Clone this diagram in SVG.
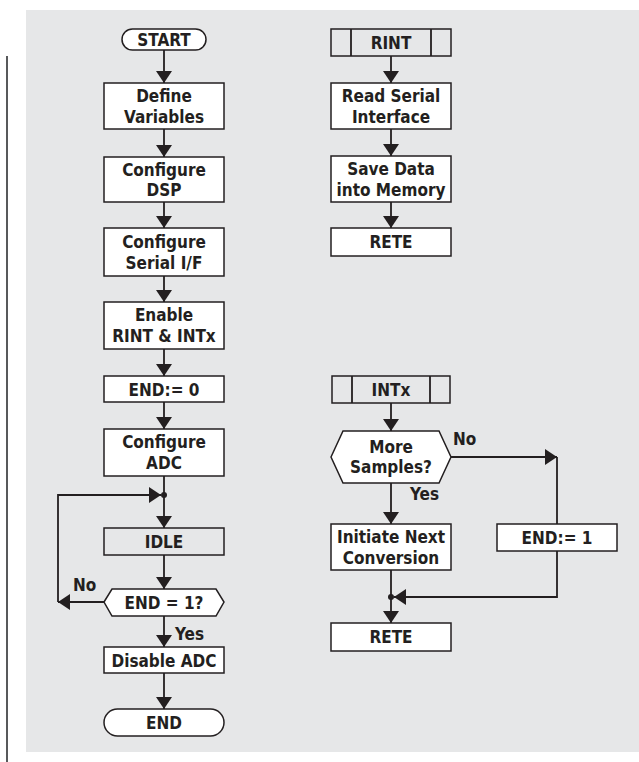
<svg xmlns="http://www.w3.org/2000/svg" width="639" height="762" viewBox="0 0 639 762">
<defs>
<style>
.bg{fill:#e6e7e8}
.box{fill:#ffffff;stroke:#231f20;stroke-width:1.5}
.gbox{fill:#e6e7e8;stroke:#231f20;stroke-width:1.5}
.ln{fill:none;stroke:#231f20;stroke-width:1.8}
.t{font-family:"Liberation Sans Narrow","Arial Narrow","DejaVu Sans Condensed",sans-serif;font-weight:bold;font-size:17px;fill:#231f20;text-anchor:middle}
.lbl{font-family:"Liberation Sans Narrow","Arial Narrow","DejaVu Sans Condensed",sans-serif;font-weight:bold;font-size:17px;fill:#231f20}
</style>
<marker id="ah" viewBox="0 0 12 16" refX="12" refY="8" markerWidth="12" markerHeight="16" markerUnits="userSpaceOnUse" orient="auto">
<path d="M0,0 L12,8 L0,16 Z" fill="#231f20"/>
</marker>
</defs>
<rect class="bg" x="26" y="10" width="613" height="742"/>
<line x1="7" y1="56" x2="7" y2="762" stroke="#58595b" stroke-width="2"/>

<g id="connectors">
<line class="ln" x1="164" y1="50" x2="164" y2="83" marker-end="url(#ah)"/>
<line class="ln" x1="164" y1="129" x2="164" y2="157" marker-end="url(#ah)"/>
<line class="ln" x1="164" y1="202" x2="164" y2="228" marker-end="url(#ah)"/>
<line class="ln" x1="164" y1="276" x2="164" y2="302" marker-end="url(#ah)"/>
<line class="ln" x1="164" y1="349" x2="164" y2="376" marker-end="url(#ah)"/>
<line class="ln" x1="164" y1="402" x2="164" y2="429" marker-end="url(#ah)"/>
<line class="ln" x1="164" y1="476" x2="164" y2="528" marker-end="url(#ah)"/>
<line class="ln" x1="164" y1="555" x2="164" y2="589" marker-end="url(#ah)"/>
<line class="ln" x1="164" y1="616" x2="164" y2="647" marker-end="url(#ah)"/>
<line class="ln" x1="164" y1="673" x2="164" y2="709" marker-end="url(#ah)"/>
<line class="ln" x1="104" y1="602" x2="58" y2="602" marker-end="url(#ah)"/>
<polyline class="ln" points="58,602 58,495 161,495" marker-end="url(#ah)"/>
<circle cx="164" cy="495" r="3" fill="#231f20"/>

<line class="ln" x1="391" y1="56" x2="391" y2="83" marker-end="url(#ah)"/>
<line class="ln" x1="391" y1="129" x2="391" y2="156" marker-end="url(#ah)"/>
<line class="ln" x1="391" y1="202" x2="391" y2="228" marker-end="url(#ah)"/>

<line class="ln" x1="391" y1="403" x2="391" y2="431" marker-end="url(#ah)"/>
<line class="ln" x1="391" y1="483" x2="391" y2="524" marker-end="url(#ah)"/>
<line class="ln" x1="391" y1="570" x2="391" y2="623" marker-end="url(#ah)"/>
<line class="ln" x1="451" y1="457" x2="557" y2="457" marker-end="url(#ah)"/>
<line class="ln" x1="557" y1="457" x2="557" y2="524"/>
<polyline class="ln" points="557,551 557,597 394,597" marker-end="url(#ah)"/>
<circle cx="391" cy="597" r="3" fill="#231f20"/>

<text class="lbl" x="73" y="591">No</text>
<text class="lbl" x="175" y="640">Yes</text>
<text class="lbl" x="453" y="445">No</text>
<text class="lbl" x="410" y="500">Yes</text>
</g>

<g id="start"><rect class="box" x="122" y="29" width="84" height="21" rx="10.5"/><text class="t" x="164" y="46">START</text></g>
<g id="define"><rect class="box" x="104" y="83" width="120" height="46"/><text class="t" x="164" y="102">Define</text><text class="t" x="164" y="123">Variables</text></g>
<g id="cfgdsp"><rect class="box" x="104" y="157" width="120" height="45"/><text class="t" x="164" y="176">Configure</text><text class="t" x="164" y="196">DSP</text></g>
<g id="cfgser"><rect class="box" x="104" y="228" width="120" height="48"/><text class="t" x="164" y="248">Configure</text><text class="t" x="164" y="269">Serial I/F</text></g>
<g id="enable"><rect class="box" x="104" y="302" width="120" height="47"/><text class="t" x="164" y="321">Enable</text><text class="t" x="164" y="342">RINT &amp; INTx</text></g>
<g id="end0"><rect class="box" x="104" y="376" width="120" height="26"/><text class="t" x="164" y="396">END:= 0</text></g>
<g id="cfgadc"><rect class="box" x="104" y="429" width="120" height="47"/><text class="t" x="164" y="448">Configure</text><text class="t" x="164" y="469">ADC</text></g>
<g id="idle"><rect class="gbox" x="104" y="528" width="120" height="27"/><text class="t" x="164" y="548">IDLE</text></g>
<g id="dec1"><polygon class="box" points="104,602 112,589 216,589 224,602 216,616 112,616"/><text class="t" x="164" y="609">END = 1?</text></g>
<g id="disable"><rect class="box" x="104" y="647" width="120" height="26"/><text class="t" x="164" y="667">Disable ADC</text></g>
<g id="end"><rect class="box" x="104" y="709" width="120" height="27" rx="13.5"/><text class="t" x="164" y="729">END</text></g>

<g id="rint"><rect class="gbox" x="331" y="29" width="120" height="27"/><line class="ln" x1="351" y1="29" x2="351" y2="56" stroke-width="1.5"/><line class="ln" x1="431" y1="29" x2="431" y2="56" stroke-width="1.5"/><text class="t" x="391" y="49">RINT</text></g>
<g id="readser"><rect class="box" x="331" y="83" width="120" height="46"/><text class="t" x="391" y="102">Read Serial</text><text class="t" x="391" y="123">Interface</text></g>
<g id="savedata"><rect class="box" x="331" y="156" width="120" height="46"/><text class="t" x="391" y="175">Save Data</text><text class="t" x="391" y="196">into Memory</text></g>
<g id="rete1"><rect class="box" x="331" y="228" width="120" height="28"/><text class="t" x="391" y="248">RETE</text></g>

<g id="intx"><rect class="gbox" x="332" y="376" width="118" height="27"/><line class="ln" x1="352" y1="376" x2="352" y2="403" stroke-width="1.5"/><line class="ln" x1="430" y1="376" x2="430" y2="403" stroke-width="1.5"/><text class="t" x="391" y="396">INTx</text></g>
<g id="more"><polygon class="box" points="331,457 343,431 439,431 451,457 439,483 343,483"/><text class="t" x="391" y="453">More</text><text class="t" x="391" y="473">Samples?</text></g>
<g id="initiate"><rect class="box" x="331" y="524" width="120" height="46"/><text class="t" x="391" y="543">Initiate Next</text><text class="t" x="391" y="564">Conversion</text></g>
<g id="end1"><rect class="box" x="497" y="524" width="120" height="27"/><text class="t" x="557" y="544">END:= 1</text></g>
<g id="rete2"><rect class="box" x="331" y="623" width="120" height="28"/><text class="t" x="391" y="643">RETE</text></g>
</svg>
